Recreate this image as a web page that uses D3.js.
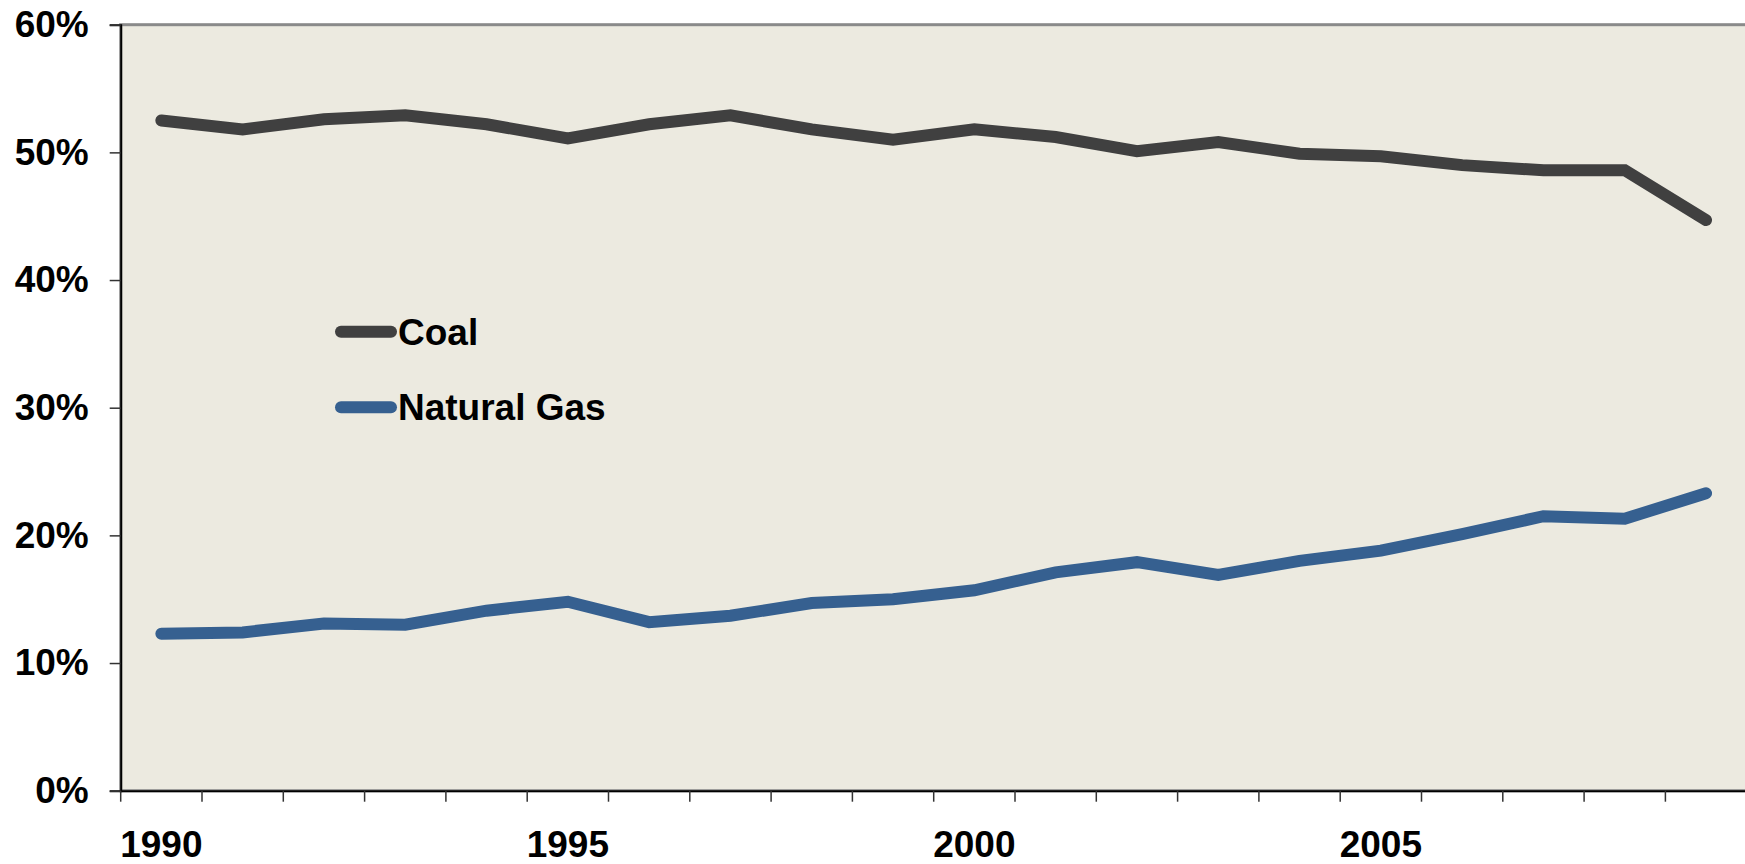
<!DOCTYPE html>
<html>
<head>
<meta charset="utf-8">
<script src="https://cdn.jsdelivr.net/npm/d3@7/dist/d3.min.js"></script>
<style>
  body { margin: 0; background: #fff; overflow: hidden; }
  svg text { font-family: "Liberation Sans", Arial, sans-serif; font-weight: bold; fill: #000; }
</style>
</head>
<body>
<div id="chart"></div>
<script>
// dados
const years = d3.range(1990, 2010);
const coal = [52.5, 51.8, 52.6, 52.9, 52.2, 51.1, 52.2, 52.9, 51.8, 51.0,
              51.8, 51.2, 50.1, 50.8, 49.9, 49.7, 49.0, 48.6, 48.6, 44.7];
const naturalGas = [12.3, 12.4, 13.1, 13.0, 14.1, 14.8, 13.2, 13.7, 14.7, 15.0,
                    15.7, 17.1, 17.9, 16.9, 18.0, 18.8, 20.1, 21.5, 21.3, 23.3];
const yTicks = [0, 10, 20, 30, 40, 50, 60];
const seriesNames = ["Coal", "Natural Gas"];

const chartWidth = 1745, chartHeight = 864;
const plotLeft = 120.7, plotTop = 24.7, plotBottom = 790.7;
const fontSize = "37px";

const svg = d3.select("#chart").append("svg")
    .attr("width", chartWidth)
    .attr("height", chartHeight);

// escalas
const x = d3.scaleBand()
    .domain(years)
    .range([plotLeft, plotLeft + 81.3 * years.length])
    .padding(0);

const y = d3.scaleLinear()
    .domain([0, 60])
    .range([plotBottom, plotTop]);

// fundo da área do gráfico
svg.append("rect")
    .attr("x", plotLeft)
    .attr("y", plotTop)
    .attr("width", x.range()[1] - plotLeft)
    .attr("height", plotBottom - plotTop)
    .attr("fill", "#ECEAE0")
    .attr("stroke", "#8a8a8a")
    .attr("stroke-width", 3);

// eixo Y
const yAxis = svg.append("g")
    .attr("transform", `translate(${plotLeft},0)`)
    .call(d3.axisLeft(y).tickValues(yTicks).tickFormat(d => d + "%").tickSize(11).tickPadding(21));
yAxis.select(".domain").attr("stroke", "#000").attr("stroke-width", 2);
yAxis.selectAll(".tick line").attr("stroke", "#333").attr("stroke-width", 1.5);
yAxis.selectAll("text").style("font-size", fontSize);

// eixo X (rótulos centrados, marcas entre categorias)
const xAxis = svg.append("g")
    .attr("transform", `translate(0,${plotBottom})`)
    .call(d3.axisBottom(x).tickSize(0)
        .tickFormat(d => (d - 1990) % 5 === 0 ? d : ""));
xAxis.select(".domain").attr("stroke", "#000").attr("stroke-width", 2);
xAxis.selectAll("text")
    .attr("y", 66)
    .attr("dy", 0)
    .style("font-size", fontSize);

xAxis.selectAll("line.cat")
    .data(years)
    .enter()
    .append("line")
    .attr("class", "cat")
    .attr("x1", d => x(d))
    .attr("x2", d => x(d))
    .attr("y1", 0)
    .attr("y2", 11)
    .attr("stroke", "#333")
    .attr("stroke-width", 1.5);

// linhas
const colors = ["#404040", "#366090"];
const line = d3.line()
    .x((d, i) => x(years[i]) + x.bandwidth() / 2)
    .y(d => y(d));

[coal, naturalGas].forEach((values, k) => {
    svg.append("path")
        .datum(values)
        .attr("fill", "none")
        .attr("stroke", colors[k])
        .attr("stroke-width", 12)
        .attr("stroke-linecap", "round")
        .attr("stroke-linejoin", "miter")
        .attr("d", line);
});

// legenda
const legend = svg.append("g").attr("transform", "translate(341,331.7)");
seriesNames.forEach((name, i) => {
    const g = legend.append("g").attr("transform", `translate(0,${i * 75.6})`);
    g.append("line")
        .attr("x1", 0).attr("x2", 50)
        .attr("y1", 0).attr("y2", 0)
        .attr("stroke", colors[i])
        .attr("stroke-width", 12)
        .attr("stroke-linecap", "round");
    g.append("text")
        .attr("x", 57)
        .attr("y", 13)
        .style("font-size", fontSize)
        .text(name);
});
</script>
</body>
</html>
